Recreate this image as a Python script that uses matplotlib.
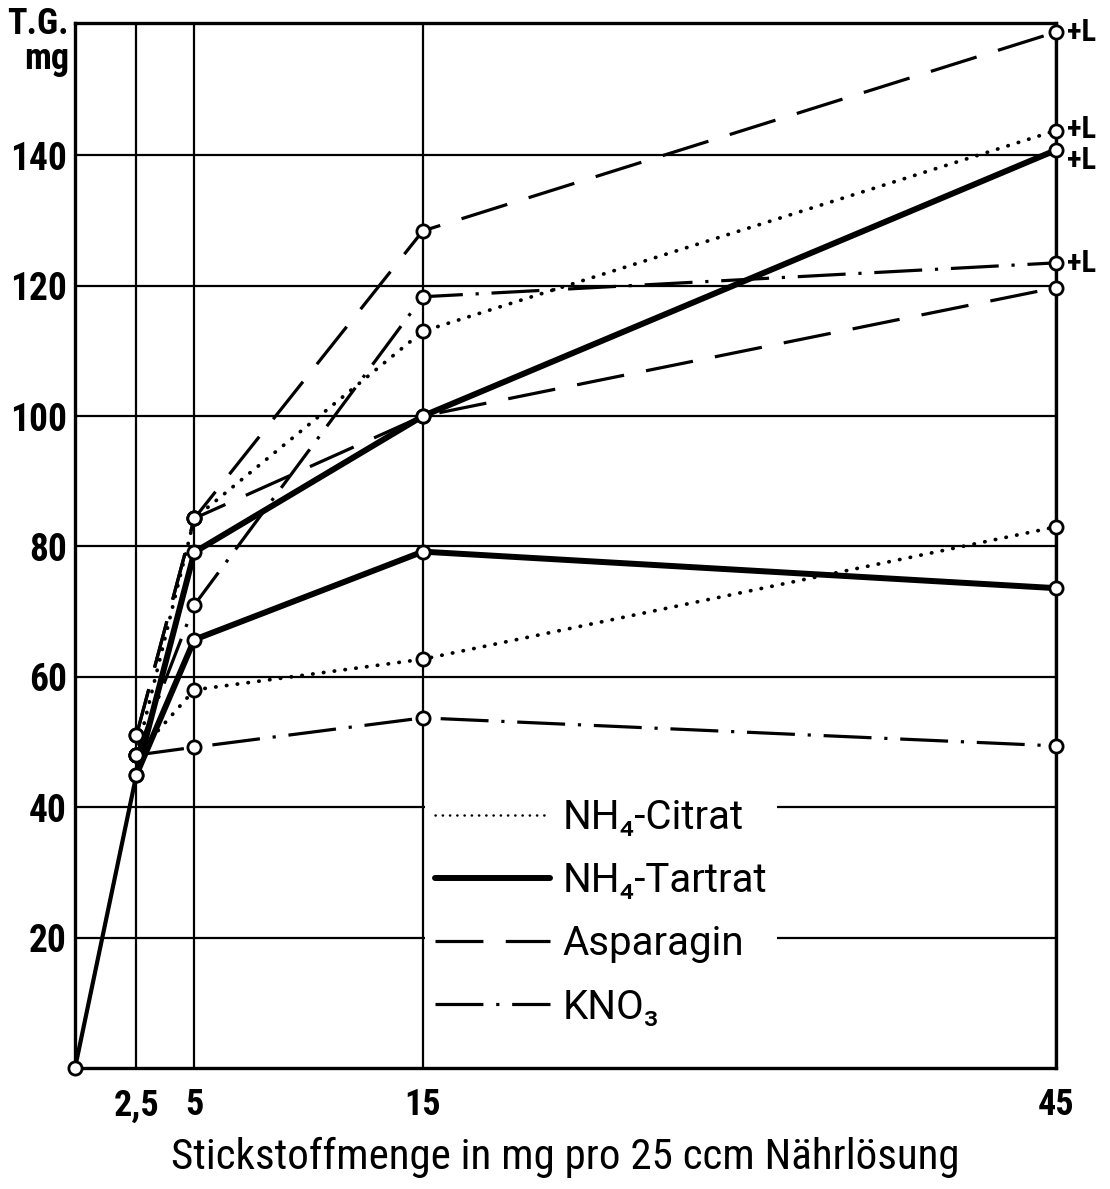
import matplotlib
matplotlib.use("Agg")
import matplotlib.pyplot as plt
from matplotlib.lines import Line2D
import numpy as np

FONT = ["Roboto Condensed", "Roboto", "DejaVu Sans"]
plt.rcParams["font.family"] = FONT

# Axis definition (the original x axis is not evenly spaced)
x_knots = [0, 2.5, 5, 15, 45]
x_knot_pos = [0, 61.5, 119.5, 348.5, 983]

x_ticks = [2.5, 5, 15, 45]
x_tick_labels = ["2,5", "5", "15", "45"]
y_ticks = [20, 40, 60, 80, 100, 120, 140]

# Data (T.G. mg vs. nitrogen amount)
start_x = [0, 2.5]
start_y = [0, 45]

x_n = [2.5, 5, 15, 45]
citrat_a = [48, 58, 62.7, 83]
citrat_b = [48, 84.3, 113, 143.8]
tartrat_a = [45, 65.7, 79.2, 73.6]
tartrat_b = [45, 79.1, 100, 140.8]
asparagin_a = [51, 84.3, 100, 119.7]
asparagin_b = [51, 84.3, 128.4, 158.9]
kno3_a = [48, 49.2, 53.7, 49.4]
kno3_b = [48, 71, 118.3, 123.5]

plus_l_values = [158.9, 143.8, 140.8, 123.5]
plus_l_offsets = [0, 1, -7, 0]

legend_labels = ["NH\u2084-Citrat", "NH\u2084-Tartrat", "Asparagin", "KNO\u2083"]


def fwd(v):
    return np.interp(v, x_knots, x_knot_pos)


def inv(v):
    return np.interp(v, x_knot_pos, x_knots)


fig = plt.figure(figsize=(11.1, 11.89), dpi=100)
ax = fig.add_axes([0.0676, 0.1018, 0.8838, 0.8789])
ax.set_xscale("function", functions=(fwd, inv))
ax.set_xlim(0, 45)
ax.set_ylim(0, 160.3)

styles = {
    "citrat": dict(color="black", lw=2.7, linestyle=(0, (0.1, 2.8)), dash_capstyle="round"),
    "tartrat": dict(color="black", lw=4.3, linestyle="-", solid_capstyle="round"),
    "asparagin": dict(color="black", lw=2.3, linestyle=(0, (15, 7))),
    "kno3": dict(color="black", lw=2.3, linestyle=(0, (15, 4, 1, 4))),
}
marker = dict(marker="o", ms=9.5, mfc="white", mec="black", mew=2.0)

series = [
    (citrat_a, "citrat"), (citrat_b, "citrat"),
    (tartrat_a, "tartrat"), (tartrat_b, "tartrat"),
    (asparagin_a, "asparagin"), (asparagin_b, "asparagin"),
    (kno3_a, "kno3"), (kno3_b, "kno3"),
]

ax.plot(start_x, start_y, color="black", lw=3, zorder=3, clip_on=False)
for vals, key in series:
    ax.plot(x_n, vals, zorder=3, clip_on=False, **styles[key])
    ax.plot(x_n, vals, linestyle="none", zorder=4, clip_on=False, **marker)
ax.plot(start_x[:1], start_y[:1], linestyle="none", zorder=4, clip_on=False, **marker)

for v, off in zip(plus_l_values, plus_l_offsets):
    ax.annotate("+L", xy=(45, v), xytext=(8, off), textcoords="offset points",
                va="center", ha="left", fontsize=22, fontweight="bold",
                annotation_clip=False)

# Grid and frame
ax.set_xticks(x_ticks)
ax.set_xticklabels(x_tick_labels)
ax.set_yticks(y_ticks)
ax.grid(True, color="black", lw=1.6, zorder=1)
ax.set_axisbelow(True)
for s in ax.spines.values():
    s.set_linewidth(2.4)
ax.tick_params(axis="both", length=0)
ax.tick_params(axis="y", labelsize=27, pad=6)
ax.tick_params(axis="x", labelsize=26, pad=14)
for t in ax.get_yticklabels():
    t.set_fontweight("bold")
for t in ax.get_xticklabels():
    t.set_fontweight("bold")

ax.set_ylabel("T.G.\nmg", rotation=0, ha="right", va="top", fontsize=26,
              fontweight="bold", linespacing=0.95)
ax.yaxis.set_label_coords(-0.006, 1.016)
ax.set_xlabel("Stickstoffmenge in mg pro 25 ccm Nährlösung", fontsize=31, labelpad=10)

handles = [Line2D([], [], **styles[k]) for k in ["citrat", "tartrat", "asparagin", "kno3"]]
handles[0].set_linewidth(1.8)
leg = ax.legend(handles, legend_labels, loc="lower left", bbox_to_anchor=(0.357, 0.03),
                frameon=True, fancybox=False, edgecolor="none", facecolor="white",
                framealpha=1, prop={"family": ["Roboto", "DejaVu Sans"], "size": 29},
                handlelength=2.85, handletextpad=0.3,
                labelspacing=0.6, borderpad=0.25, borderaxespad=0)
leg.set_zorder(5)

fig.savefig("out.png", dpi=100)
